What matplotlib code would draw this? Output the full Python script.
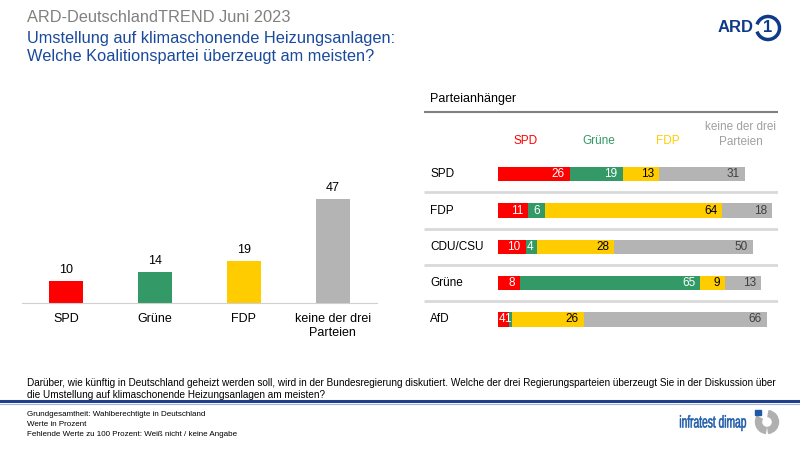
import matplotlib.pyplot as plt
import matplotlib.transforms as mtransforms
from matplotlib.patches import Arc, Wedge, Rectangle, PathPatch
from matplotlib.lines import Line2D
from matplotlib.textpath import TextPath
from matplotlib.font_manager import FontProperties

plt.rcParams['font.family'] = ['Liberation Sans', 'DejaVu Sans']

# left chart: all voters
categories = ["SPD", "Grüne", "FDP", "keine der drei\nParteien"]
totals = [10, 14, 19, 47]

# right chart: by party supporters
groups = ["SPD", "FDP", "CDU/CSU", "Grüne", "AfD"]
spd = [26, 11, 10, 8, 4]
gruene = [19, 6, 4, 65, 1]
fdp = [13, 64, 28, 9, 26]
keine = [31, 18, 50, 13, 66]

RED = "#FF0000"
GREEN = "#339966"
YELLOW = "#FFCC00"
GREY = "#B4B4B4"
BLUE = "#1A4A9C"
colors = [RED, GREEN, YELLOW, GREY]

W, H = 800, 450
fig = plt.figure(figsize=(8, 4.5), dpi=100)


def fx(px):
    return px / W


def fy(py):
    return 1 - py / H


# titles
fig.text(fx(27), fy(18), "ARD-DeutschlandTREND Juni 2023", fontsize=11.8,
         color="#808080", va="center")
fig.text(fx(27), fy(38), "Umstellung auf klimaschonende Heizungsanlagen:",
         fontsize=11.8, color=BLUE, va="center")
fig.text(fx(27), fy(57), "Welche Koalitionspartei überzeugt am meisten?",
         fontsize=11.8, color=BLUE, va="center")

# ---- left bar chart
axl = fig.add_axes([fx(22), fy(303), fx(355), (303 - 170) / H])
xs = range(len(categories))
axl.bar(xs, totals, width=0.385, color=colors)
for x, v in zip(xs, totals):
    axl.text(x, v + 2.2, str(v), ha="center", va="bottom", fontsize=9)
axl.set_xlim(-0.5, 3.5)
axl.set_ylim(0, 133 / 2.22)
axl.set_yticks([])
axl.set_xticks(list(xs))
axl.set_xticklabels(categories, fontsize=9, linespacing=1.3)
axl.tick_params(axis="x", length=0, pad=7)
for s in ["top", "left", "right"]:
    axl.spines[s].set_visible(False)
axl.spines["bottom"].set_color("#D0D0D0")
axl.patch.set_alpha(0)

# ---- right stacked bars
px_unit = 2.77
row_px = 36.3
top_px, bot_px = 112, 338
axr = fig.add_axes([fx(424), fy(bot_px), fx(778 - 424), (bot_px - top_px) / H])
x0 = -(498 - 424) / px_unit
axr.set_xlim(x0, (778 - 498) / px_unit)
ytop = -(174.3 - top_px) / row_px
axr.set_ylim((bot_px - 174.3) / row_px, ytop)
axr.axis("off")

rows = list(range(len(groups)))
series = [spd, gruene, fdp, keine]
txt_colors = ["white", "white", "black", "#404040"]
left = [0] * len(groups)
for vals, c, tc in zip(series, colors, txt_colors):
    axr.barh(rows, vals, left=left, height=0.394, color=c)
    for r, v, l in zip(rows, vals, left):
        off = min(1.8, 0.3 * v)
        axr.text(l + v - off, r, str(v), ha="right", va="center",
                 fontsize=8.5, color=tc)
    left = [l + v for l, v in zip(left, vals)]

for r, g in zip(rows, groups):
    axr.text(x0 + 2.2, r, g, ha="left", va="center", fontsize=8.5)
for r in rows[:-1]:
    axr.plot([x0, axr.get_xlim()[1]], [r + 0.5, r + 0.5], color="#D9D9D9",
             lw=2, solid_capstyle="butt")
axr.plot([x0, axr.get_xlim()[1]], [ytop, ytop], color="#808080", lw=1.5,
         clip_on=False, solid_capstyle="butt")

hdr_y = -(174.3 - 140.7) / row_px
axr.text(10.0, hdr_y, "SPD", color=RED, ha="center", va="center", fontsize=8.5)
axr.text(36.4, hdr_y, "Grüne", color=GREEN, ha="center", va="center", fontsize=8.5)
axr.text(61.3, hdr_y, "FDP", color=YELLOW, ha="center", va="center", fontsize=8.5)
axr.text(87.6, -(174.3 - 134.5) / row_px, "keine der drei\nParteien", color="#A0A0A0",
         ha="center", va="center", fontsize=8.5, linespacing=1.3)
fig.text(fx(430), fy(99), "Parteianhänger", fontsize=9, va="center")

# question text
fig.text(fx(27), fy(383),
         "Darüber, wie künftig in Deutschland geheizt werden soll, wird in der "
         "Bundesregierung diskutiert. Welche der drei Regierungsparteien überzeugt "
         "Sie in der Diskussion über", fontsize=7.2, va="center")
fig.text(fx(27), fy(395), "die Umstellung auf klimaschonende Heizungsanlagen am meisten?",
         fontsize=7.2, va="center")

# separator
fig.add_artist(Line2D([0, 1], [fy(401), fy(401)], color="#1F3F8F", lw=2.2))
fig.add_artist(Line2D([0, 1], [fy(403.5), fy(403.5)], color="#A8B4CC", lw=0.8))

# footnotes
fig.text(fx(27), fy(414), "Grundgesamtheit: Wahlberechtigte in Deutschland",
         fontsize=5.75, va="center")
fig.text(fx(27), fy(424), "Werte in Prozent", fontsize=5.75, va="center")
fig.text(fx(27), fy(434), "Fehlende Werte zu 100 Prozent: Weiß nicht / keine Angabe",
         fontsize=5.75, va="center")

# logos
ARDBLUE = "#0F3A8A"
fig.text(fx(754), fy(28), "ARD", fontsize=12, fontweight="bold", color=ARDBLUE,
         ha="right", va="center")
fig.add_artist(Arc((fx(768), fy(28)), 23 / W, 23 / H, theta1=-150, theta2=150,
                   transform=fig.transFigure, color=ARDBLUE, lw=2.5))
fig.text(fx(768), fy(28), "1", fontsize=12, fontweight="bold", color=ARDBLUE,
         ha="center", va="center")

# infratest dimap word mark, squeezed to a condensed look
axt = fig.add_axes([fx(676), fy(434), fx(74), 24 / H])
axt.set_xlim(676, 750)
axt.set_ylim(0, 24)
axt.axis("off")
tp = TextPath((0, 0), "infratest dimap", size=17,
              prop=FontProperties(family="Liberation Sans"))
ext = tp.get_extents()
sx = 66 / ext.width
tr = mtransforms.Affine2D().translate(-ext.x0, 0).scale(sx, 1.0).translate(680, 6.5)
axt.add_patch(PathPatch(tr.transform_path(tp), fc="#1D5BA8", ec="#1D5BA8", lw=0.4))

axi = fig.add_axes([fx(754), fy(435), fx(26), 26 / H])
axi.set_xlim(-13, 13)
axi.set_ylim(-13, 13)
axi.set_aspect("equal")
axi.axis("off")
axi.add_patch(Wedge((0, 0), 11.5, 150, 262, width=6, color="#B0B0B0"))
axi.add_patch(Wedge((0, 0), 11.5, 278, 80, width=6, color="#B0B0B0"))
axi.add_patch(Rectangle((-12, 7), 6, 5, color="#1D5BA8"))

fig.savefig("out.png", dpi=100)
